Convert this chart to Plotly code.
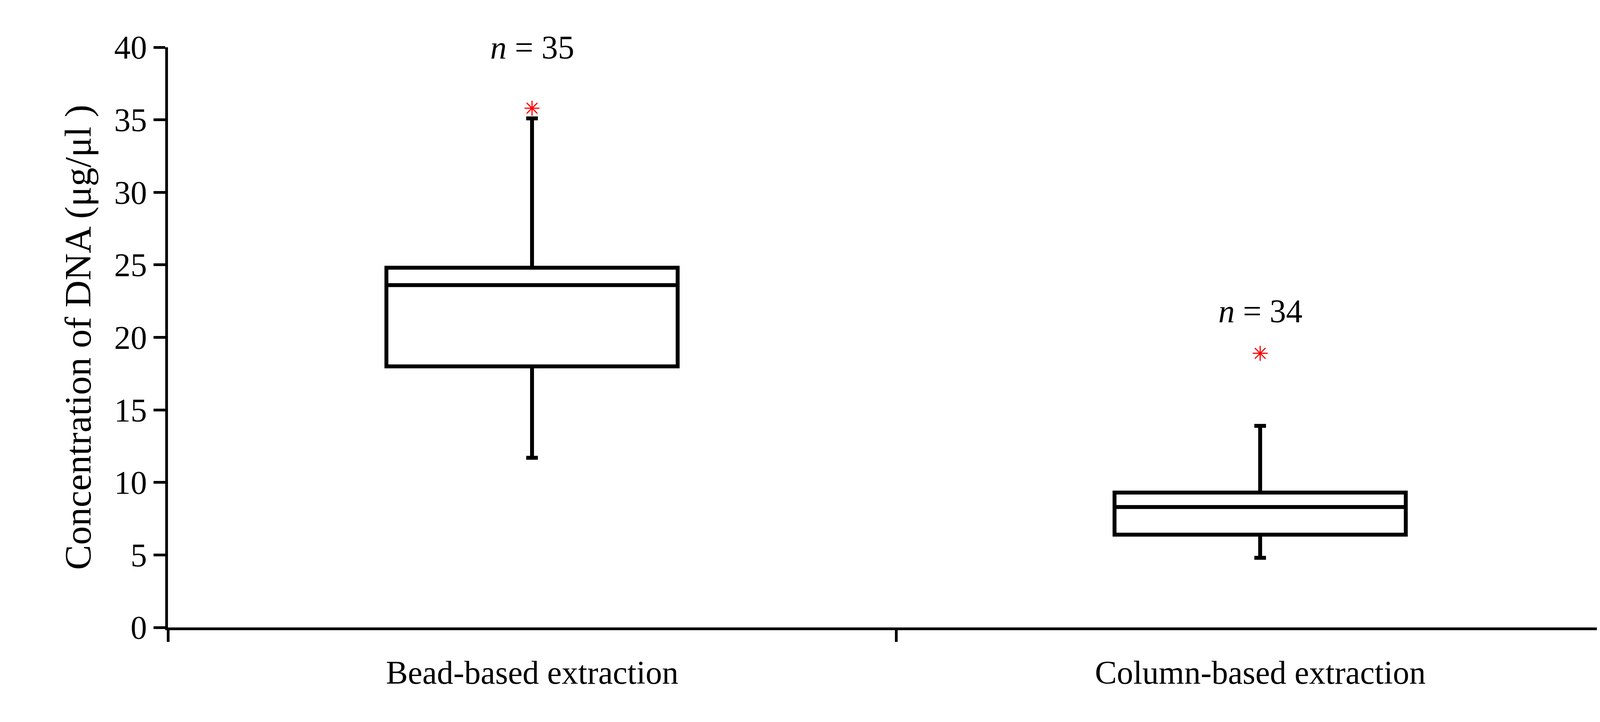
import plotly.graph_objects as go

categories = ["Bead-based extraction", "Column-based extraction"]
positions = [0, 1]
q1 = [18.0, 6.4]
median = [23.6, 8.3]
q3 = [24.8, 9.3]
lower = [11.7, 4.8]
upper = [35.1, 13.9]
outliers = [35.8, 18.9]
n_labels = ["35", "34"]
n_label_y = [40.0, 21.8]

fig = go.Figure()
for i in range(2):
    fig.add_trace(go.Box(x=[positions[i]], q1=[q1[i]], median=[median[i]], q3=[q3[i]],
                         lowerfence=[lower[i]], upperfence=[upper[i]], width=0.4,
                         whiskerwidth=0.04, fillcolor="white", boxpoints=False,
                         line=dict(color="black", width=10), showlegend=False))
fig.add_trace(go.Scatter(x=positions, y=outliers, mode="markers", showlegend=False,
                         marker=dict(symbol="asterisk-open", size=32, color="red",
                                     line=dict(color="red", width=3))))
for i in range(2):
    fig.add_annotation(x=positions[i], y=n_label_y[i], text="<i>n</i> = " + n_labels[i],
                       showarrow=False, font=dict(size=84, color="black"), yanchor="middle")
    fig.add_annotation(x=positions[i], y=0, yref="y", text=categories[i], showarrow=False,
                       yshift=-115, font=dict(size=84, color="black"))

fig.update_layout(
    width=4212, height=1848, plot_bgcolor="white", paper_bgcolor="white",
    margin=dict(l=422, r=62, t=113, b=250),
    font=dict(family="Liberation Serif", size=84, color="black"),
    xaxis=dict(range=[-0.5, 1.5], tickvals=[-0.5, 0.5, 1.5], ticktext=["", "", ""],
               ticks="outside", ticklen=30, tickwidth=7, tickcolor="black",
               showline=True, linecolor="black", linewidth=7, showgrid=False, zeroline=False),
    yaxis=dict(range=[0, 40], dtick=5, ticks="outside", ticklen=30, tickwidth=7, tickcolor="black",
               showline=True, linecolor="black", linewidth=7, showgrid=False, zeroline=False,
               title=dict(text="Concentration of DNA (μg/μl )", font=dict(size=96), standoff=30)),
)
fig.write_html("out.html")
